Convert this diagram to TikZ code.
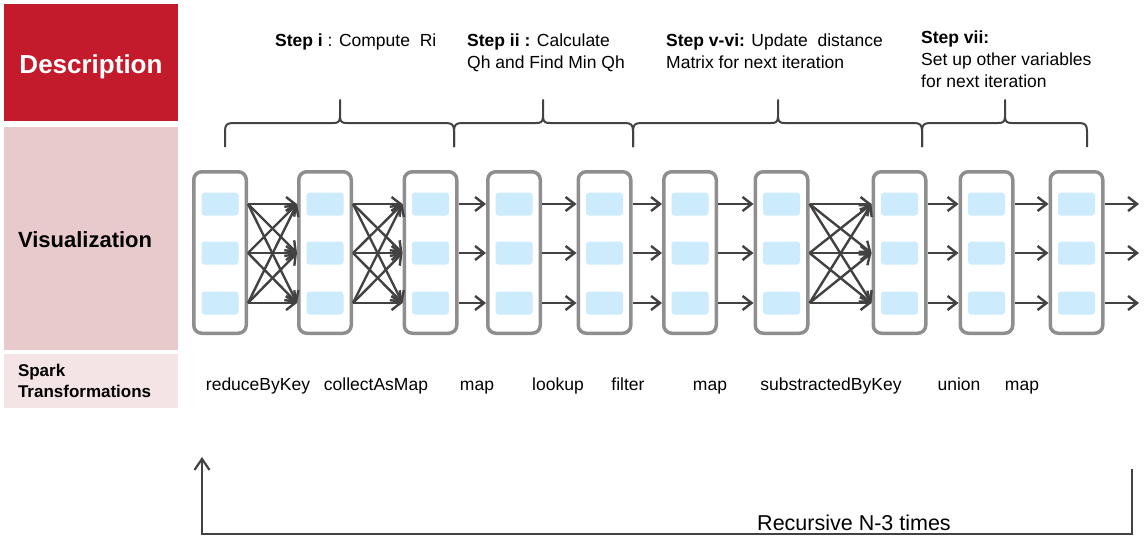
\documentclass[tikz,border=0pt]{standalone}
\usepackage{fontspec}
\setmainfont{Liberation Sans}
\usetikzlibrary{arrows.meta}
\definecolor{descred}{HTML}{C41B2C}
\definecolor{vispink}{HTML}{E8CACC}
\definecolor{sparkpink}{HTML}{F5E4E6}
\definecolor{boxgray}{HTML}{8E8E8E}
\definecolor{cellblue}{HTML}{CCEBFC}
\definecolor{inkgray}{HTML}{424242}

\tikzset{
  sidebox/.style={minimum width=174pt, inner xsep=14pt, inner ysep=0pt,
    text width=146pt, align=left},
  colbox/.style={draw=boxgray, line width=3.5pt, fill=white,
    rounded corners=8pt, minimum width=52.5pt, minimum height=161.5pt, inner sep=0pt},
  cellbox/.style={fill=cellblue, rounded corners=3pt, minimum width=37pt,
    minimum height=23pt, inner sep=0pt},
  flow/.style={draw=inkgray, line width=2.4pt,
    -{Straight Barb[length=9pt,width=14pt]}},
  bracepath/.style={draw=inkgray, line width=2pt, line join=round},
  steptxt/.style={inner sep=0pt, align=left, font=\fontsize{17.5}{22}\selectfont},
  sparktxt/.style={inner sep=0pt, anchor=base, font=\fontsize{17.5}{21}\selectfont},
  loopline/.style={draw=inkgray, line width=2.2pt,
    -{Straight Barb[length=11pt,width=15pt]}}
}

\begin{document}
\begin{tikzpicture}[x=1pt,y=-1pt]
  \useasboundingbox (0,0) rectangle (1144,538);

  % row headers
  \node[sidebox, fill=descred, minimum height=117pt, align=center,
    text=white, font=\bfseries\fontsize{26}{30}\selectfont] (desc) at (91,62.5)
    {\raisebox{-10.8pt}[0pt][0pt]{Description}};
  \node[sidebox, fill=vispink, minimum height=223pt,
    font=\bfseries\fontsize{22}{26}\selectfont] (vis) at (91,238.5)
    {\raisebox{-9.4pt}[0pt][0pt]{Visualization}};
  \node[sidebox, fill=sparkpink, minimum height=54pt,
    font=\bfseries\fontsize{17}{21}\selectfont] (spark) at (91,381) {Spark\\Transformations};

  % step descriptions
  \node[steptxt, anchor=north west] (stepi) at (275,33.5) {\textbf{Step i} : Compute\ \ Ri};
  \node[steptxt, anchor=north west] (stepii) at (467,33.5) {\textbf{Step ii :} Calculate\\Qh and Find Min Qh};
  \node[steptxt, anchor=north west] (stepv) at (666,33.5) {\textbf{Step v-vi:} Update\ \ distance\\Matrix for next iteration};
  \node[steptxt, anchor=north west] (stepvii) at (921,30.5) {\textbf{Step vii:}\\Set up other variables\\for next iteration};

  % braces under the steps
  \foreach \l/\m/\r in {225/340/454, 454/543/633, 633/778/922, 922/1005/1087}
    \draw[bracepath] (\l,147) -- (\l,131) .. controls (\l,125) and (\l+2,123) .. (\l+8,123)
      -- (\m-7,123) .. controls (\m-2,123) and (\m,122) .. (\m,116) -- (\m,100)
      -- (\m,116) .. controls (\m,122) and (\m+2,123) .. (\m+7,123)
      -- (\r-8,123) .. controls (\r-2,123) and (\r,125) .. (\r,131) -- (\r,147);

  % partitions
  \foreach \i/\x in {1/220,2/325,3/430.5,4/514,5/604.5,6/690,7/781.5,8/899.5,9/986.5,10/1076.5} {
    \node[colbox] (c\i) at (\x,252.5) {};
    \foreach \r/\y in {a/204,b/253,c/303}
      \node[cellbox] (c\i\r) at (\x,\y) {};
  }

  % shuffles
  \foreach \s/\t in {1/2,2/3,7/8}
    \foreach \p in {a,b,c}
      \foreach \q in {a,b,c}
        \draw[flow] (c\s.east |- c\s\p) -- (c\t.west |- c\t\q);
  % narrow dependencies
  \foreach \s/\t in {3/4,4/5,5/6,6/7,8/9,9/10}
    \foreach \p in {a,b,c}
      \draw[flow] (c\s.east |- c\s\p) -- (c\t.west |- c\t\p);
  \foreach \p/\y in {a/204,b/253,c/303} {
    \coordinate (out\p) at (1139,\y);
    \draw[flow] (c10.east |- c10\p) -- (out\p);
  }

  % transformation names
  \node[sparktxt] (rbk) at (258,390) {reduceByKey};
  \node[sparktxt] (cam) at (376,390) {collectAsMap};
  \node[sparktxt] (mapa) at (477,390) {map};
  \node[sparktxt] (lku) at (558,390) {lookup};
  \node[sparktxt] (flt) at (628,390) {filter};
  \node[sparktxt] (mapb) at (710,390) {map};
  \node[sparktxt] (sbk) at (831,390) {substractedByKey};
  \node[sparktxt] (uni) at (959,390) {union};
  \node[sparktxt] (mapc) at (1022,390) {map};

  % loop back
  \coordinate (loopfrom) at (1132,469);
  \coordinate (loopto) at (202,457);
  \draw[loopline] (loopfrom) -- ++(0,65) -| (loopto);
  \node[sparktxt, font=\fontsize{21.5}{25}\selectfont] (rec) at (854,530) {Recursive N-3 times};
\end{tikzpicture}
\end{document}
